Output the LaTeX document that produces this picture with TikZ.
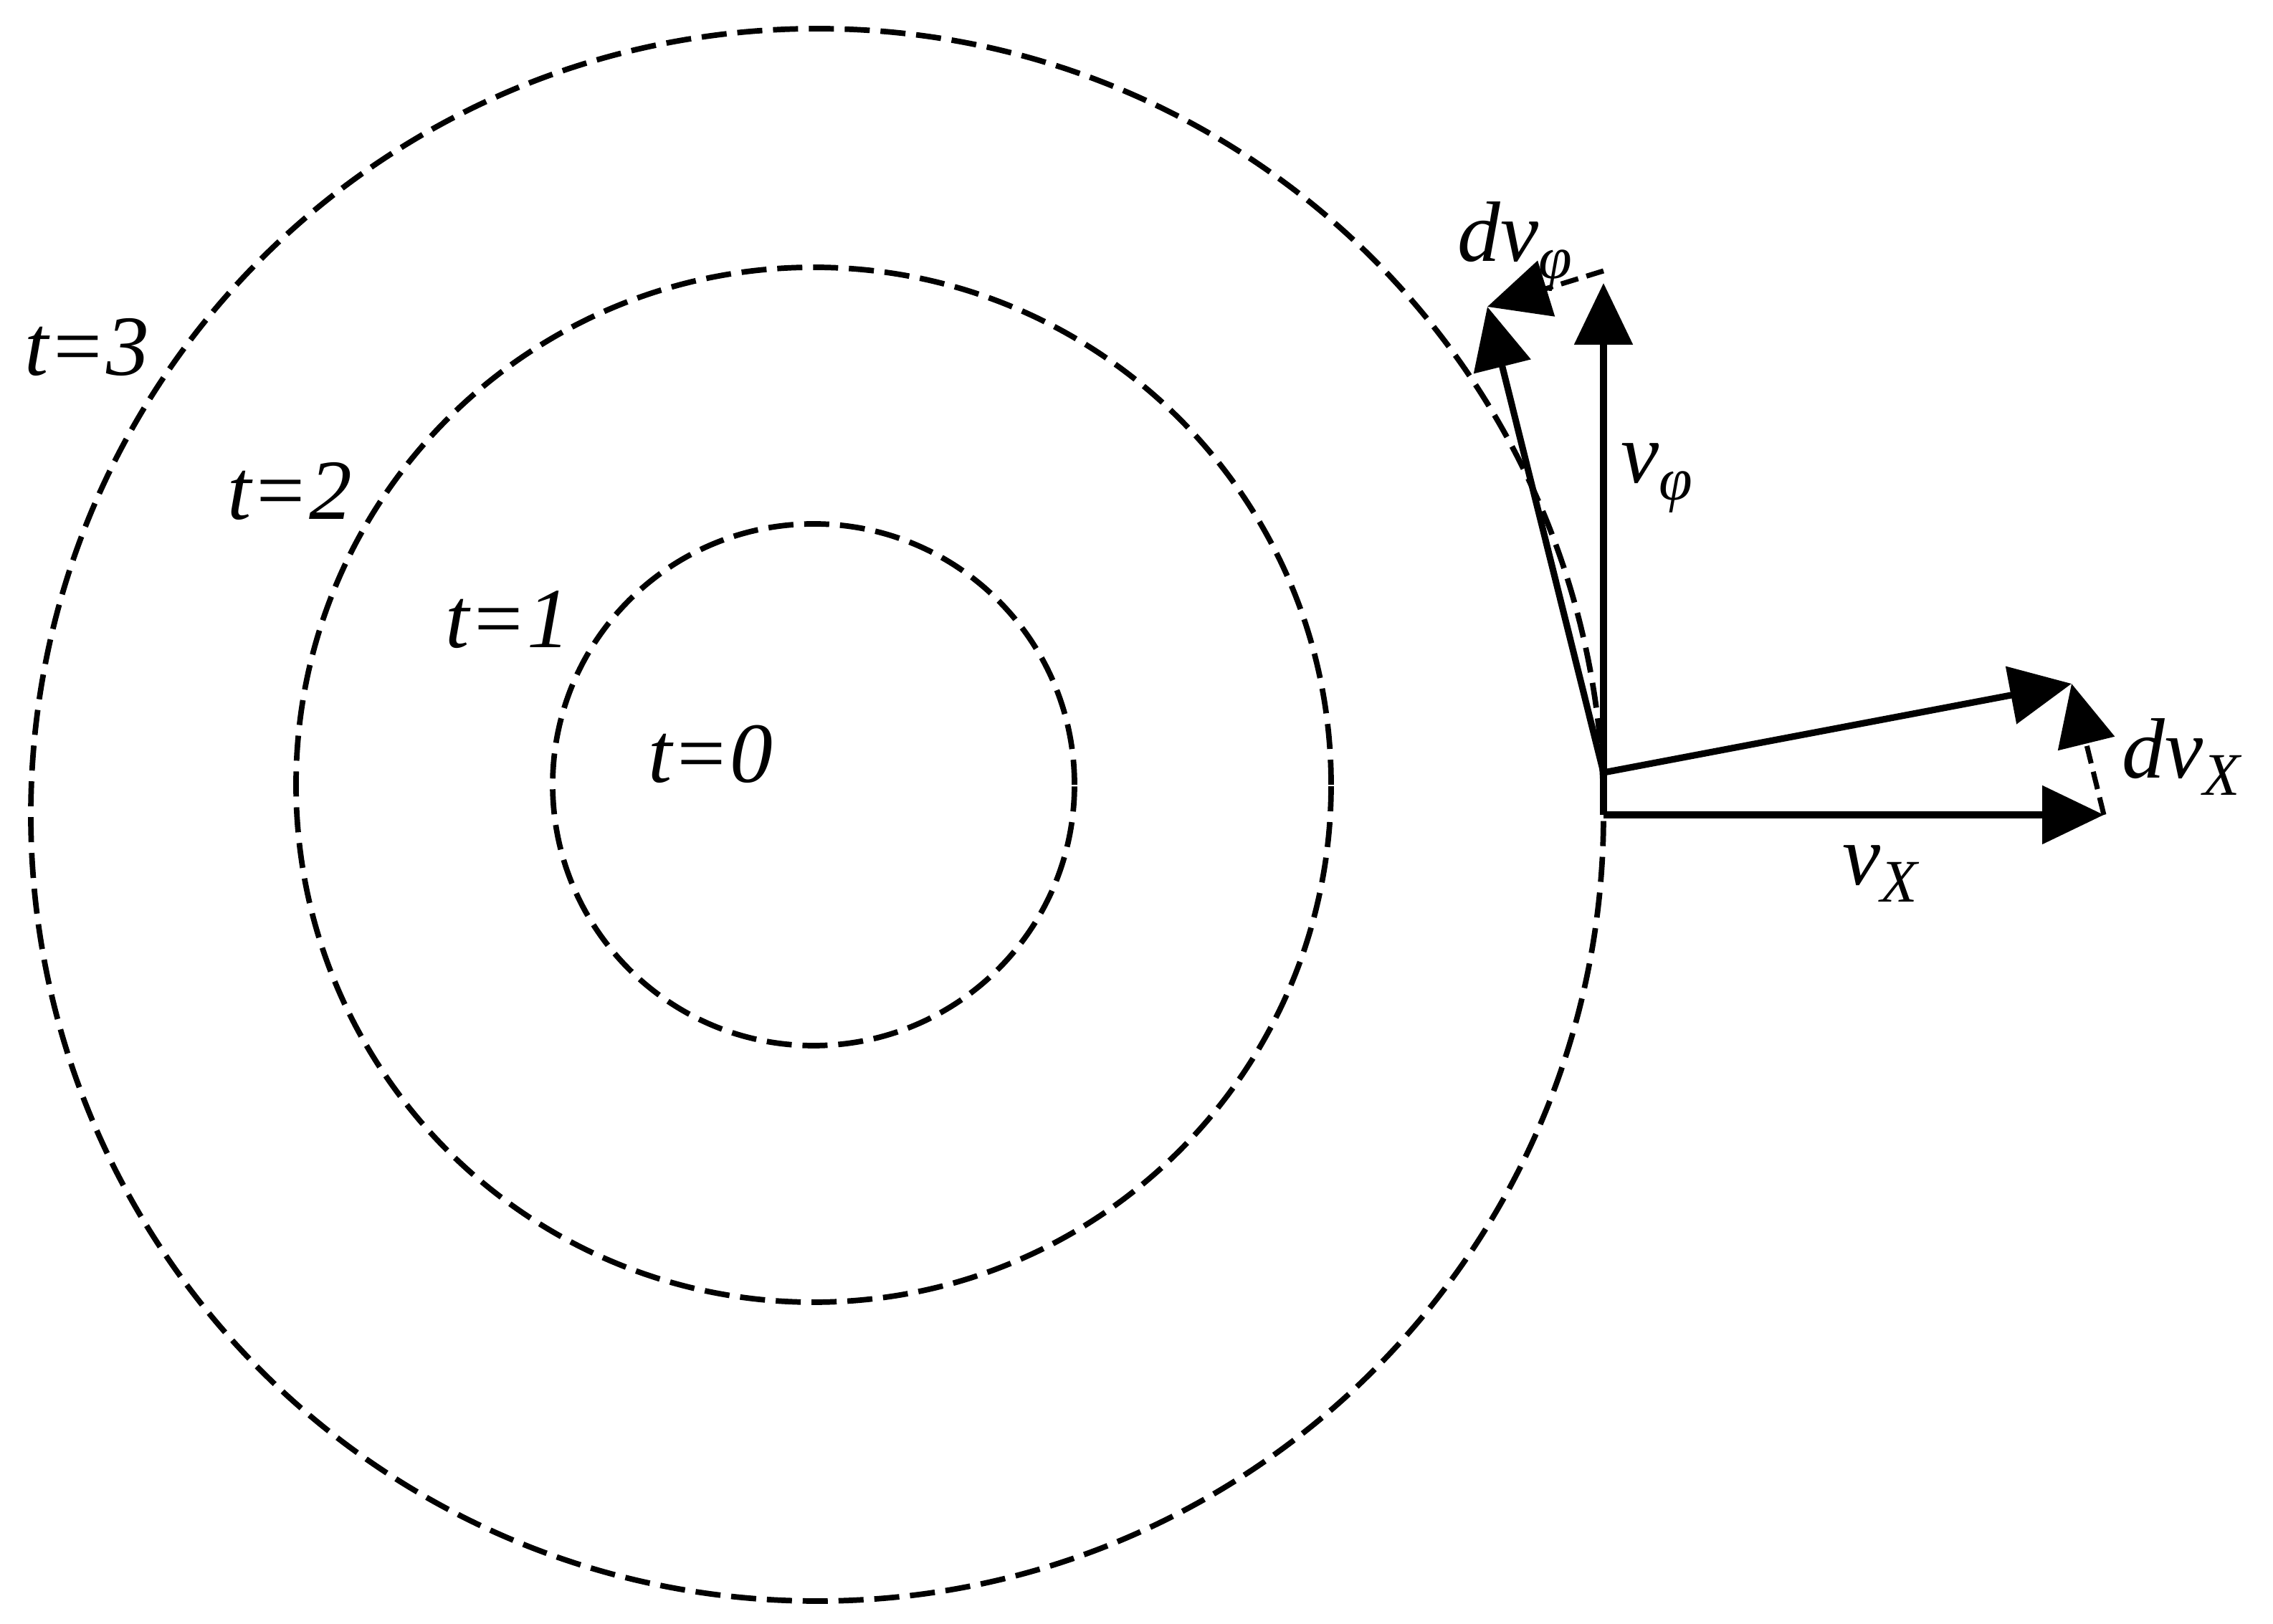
\documentclass[tikz,border=0pt]{standalone}
\usepackage{fontspec}
\setmainfont{Liberation Serif}
\usetikzlibrary{arrows.meta}
\newcommand{\lowsub}[1]{\raisebox{-0.45ex}{\fontsize{24}{26}\selectfont #1}}

\begin{document}
\begin{tikzpicture}[>={Triangle[length=0.86cm,width=0.8cm]},line width=2.6pt,
  ring/.style={line width=2.2pt,dash pattern=on 0.35cm off 0.15cm},
  small dash/.style={line width=2pt,dash pattern=on 0.25cm off 0.12cm},
  lbl/.style={font=\fontsize{34}{36}\selectfont\itshape,inner sep=0pt}]
  \useasboundingbox (0,0) rectangle (31.71,22.66);

  \coordinate (c) at (11.35,11.71);
  \coordinate (c3) at (11.40,11.29);
  \draw[ring] (c) circle (3.64);
  \draw[ring] (c) circle (7.22);
  \draw[ring] (c3) circle (10.97);

  \node[lbl] (t3) at (1.21,17.81) {t=3};
  \node[lbl] (t2) at (4.04,15.80) {t=2};
  \node[lbl] (t1) at (7.08,14.01) {t=1};
  \node[lbl] (t0) at (9.91,12.14) {t=0};

  \coordinate (o) at (22.37,11.29);
  \coordinate (p) at (22.37,11.88);
  \coordinate (vphi) at (22.37,18.71);
  \coordinate (vphitop) at (22.37,18.88);
  \coordinate (vx) at (29.35,11.29);
  \coordinate (vxn) at (28.90,13.12);
  \coordinate (vphin) at (20.75,18.38);

  \draw[->] (o) -- (vphi);
  \draw[->] (o) -- (vx);
  \draw[->] (p) -- (vxn);
  \draw[->] (p) -- (vphin);
  \draw[->,small dash] (vx) -- (vxn);
  \draw[->,small dash] (vphitop) -- (vphin);

  \node[lbl] (lvphi) at (23.11,15.99) {v\lowsub{φ}};
  \node[lbl] (lvx) at (26.23,10.47) {v\lowsub{X}};
  \node[lbl] (ldvx) at (30.43,12.10) {dv\lowsub{X}};
  \node[lbl] (ldvphi) at (21.13,19.22) {dv\lowsub{φ}};
\end{tikzpicture}
\end{document}
